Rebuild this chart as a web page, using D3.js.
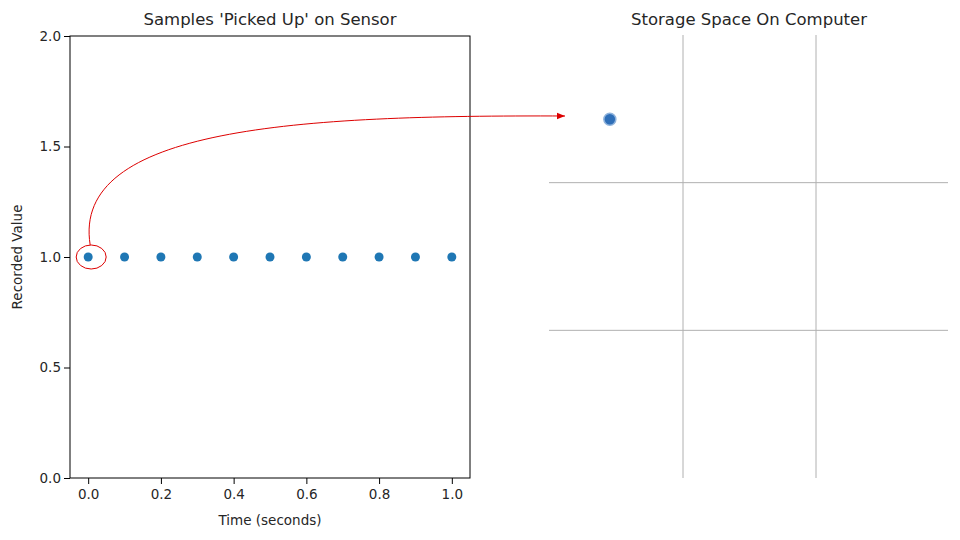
<!DOCTYPE html><html><head><script src="https://cdn.jsdelivr.net/npm/d3@7"></script>
<style>body{margin:0;background:#fff}text{font-family:"DejaVu Sans",sans-serif;fill:#262626}</style></head><body>
<svg id="c" width="960" height="540"></svg>
<script>
const times=[0,0.1,0.2,0.3,0.4,0.5,0.6,0.7,0.8,0.9,1.0];
const values=[1,1,1,1,1,1,1,1,1,1,1];
const xTicks=[0,0.2,0.4,0.6,0.8,1.0];
const yTicks=[0,0.5,1.0,1.5,2.0];
const gridLines=[1,2];
const storedPoint=[0.45,2.43];
const svg=d3.select("#c");
const x=d3.scaleLinear().domain([-0.05,1.05]).range([70,470]);
const y=d3.scaleLinear().domain([0,2]).range([478,36]);
const g=svg.append("g");
g.append("g").attr("transform","translate(0,478)").call(d3.axisBottom(x).tickValues(xTicks).tickFormat(d3.format(".1f")).tickSizeOuter(0)).call(a=>a.selectAll("text").attr("font-size",13.5).attr("dy","0.9em"));
g.append("g").attr("transform","translate(70,0)").call(d3.axisLeft(y).tickValues(yTicks).tickFormat(d3.format(".1f")).tickSizeOuter(0)).call(a=>a.selectAll("text").attr("font-size",13.5));
g.selectAll(".domain").remove();
g.append("rect").attr("x",70).attr("y",36).attr("width",400).attr("height",442).attr("fill","none").attr("stroke","#000").attr("stroke-width",1);
g.selectAll("circle").data(times).join("circle").attr("cx",d=>x(d)).attr("cy",(d,i)=>y(values[i])).attr("r",4.5).attr("fill","#1f77b4");
svg.append("text").attr("x",270).attr("y",25).attr("text-anchor","middle").attr("font-size",16.5).text("Samples 'Picked Up' on Sensor");
svg.append("text").attr("x",270).attr("y",525).attr("text-anchor","middle").attr("font-size",13.5).text("Time (seconds)");
svg.append("text").attr("transform","translate(22,257) rotate(-90)").attr("text-anchor","middle").attr("font-size",13.5).text("Recorded Value");
// right
const x2=d3.scaleLinear().domain([0,3]).range([550,949]);
const y2=d3.scaleLinear().domain([0,3]).range([478,35]);
gridLines.forEach(v=>{
 svg.append("line").attr("x1",x2(v)).attr("x2",x2(v)).attr("y1",35).attr("y2",478).attr("stroke","#b0b0b0");
 svg.append("line").attr("y1",y2(v)).attr("y2",y2(v)).attr("x1",549).attr("x2",948).attr("stroke","#b0b0b0");
});
svg.append("circle").attr("cx",x2(storedPoint[0])).attr("cy",y2(storedPoint[1])).attr("r",6).attr("fill","#2f6fb8").attr("stroke","#8fb3dc").attr("stroke-width",1.5);
svg.append("text").attr("x",749).attr("y",25).attr("text-anchor","middle").attr("font-size",16.5).text("Storage Space On Computer");
// annotation
const cx=x(times[0])+3, cy=y(values[0]);
svg.append("ellipse").attr("cx",cx).attr("cy",cy).attr("rx",15).attr("ry",12).attr("fill","none").attr("stroke","#d00").attr("stroke-width",1);
svg.append("defs").append("marker").attr("id","ah").attr("viewBox","0 0 10 10").attr("refX",10).attr("refY",5).attr("markerWidth",8).attr("markerHeight",8).attr("orient","auto").append("path").attr("d","M0,1L10,5L0,9z").attr("fill","#d00");
svg.append("path").attr("d",`M${cx-1},${cy-12} C ${cx-20},${cy-130} 300,115 565,116`).attr("fill","none").attr("stroke","#d00").attr("stroke-width",1).attr("marker-end","url(#ah)");
</script></body></html>
